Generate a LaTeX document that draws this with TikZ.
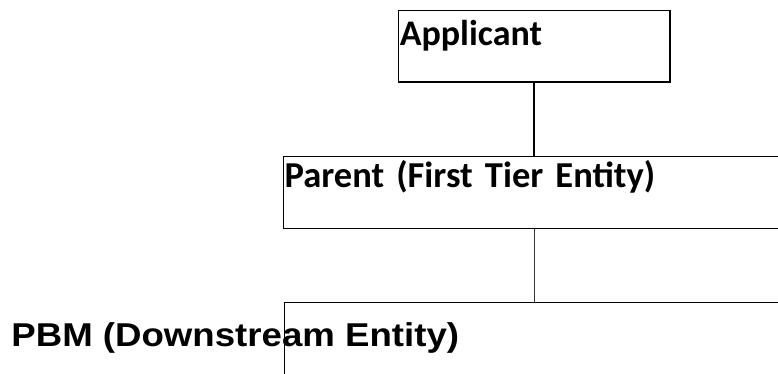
\documentclass[tikz,border=0pt]{standalone}
\usepackage{fontspec}
\newfontfamily\boxfont{Carlito}
\newfontfamily\pbmfont[FakeStretch=1.11]{Liberation Sans}
\usetikzlibrary{positioning}
\tikzset{%
  entityBox/.style={%
    rectangle,
    draw=black,
    line width=1.5pt,
    inner xsep=1.5pt,
    inner ysep=0pt,
    align=left,
    anchor=north west,
    font={\boxfont\bfseries\fontsize{36pt}{40pt}\selectfont}
  },
  outerLabel/.style={%
    inner sep=0pt,
    anchor=base west,
    font={\pbmfont\bfseries\fontsize{33pt}{38pt}\selectfont}
  },
  linkLine/.style={%
    line width=1.5pt,
    color=black
  }
}

\begin{document}
\begin{tikzpicture}[x=1pt,y=-1pt]
  \useasboundingbox (0,0) rectangle (778,373);
  \clip (0,0) rectangle (778,373);

  \node[entityBox, text width=268.5pt, text height=35.3pt, text depth=36pt] (applicant) at (397.5,9.7) {Applicant};
  \node[entityBox, line width=1.2pt, font={\boxfont\bfseries\fontsize{36.5pt}{40pt}\selectfont}, text width=517pt, text height=30.7pt, text depth=41.3pt] (parent) at (282.5,156) {Parent (First Tier Entity)};
  \node[entityBox, line width=0.8pt, minimum width=520pt, minimum height=75pt] (pbm) at (284,302) {};
  \node[outerLabel] (pbmText) at (11.2,346) {PBM (Downstream Entity)};

  \draw[linkLine] (applicant.south) -- (applicant.south |- parent.north);
  \draw[linkLine, line width=0.8pt, color=black!80] (applicant.south |- parent.south) -- (applicant.south |- pbm.north);
\end{tikzpicture}
\end{document}
